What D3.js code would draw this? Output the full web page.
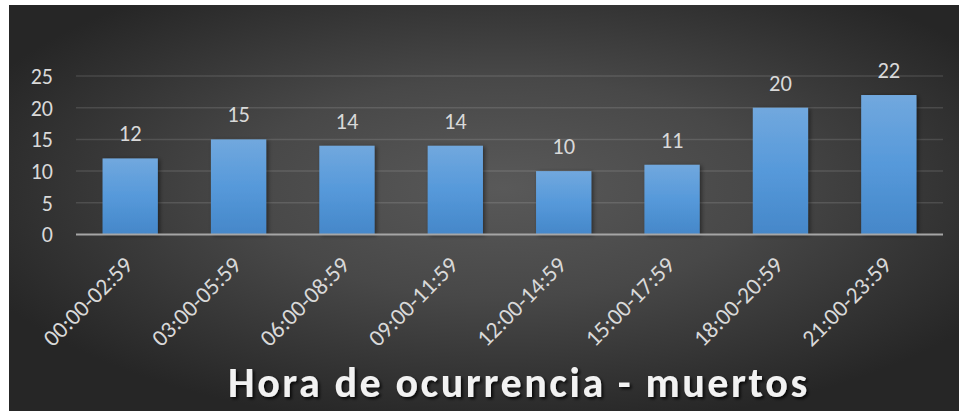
<!DOCTYPE html>
<html>
<head>
<meta charset="utf-8">
<title>Hora de ocurrencia - muertos</title>
<style>
body {margin: 0; background: #ffffff;}
text {font-family: Carlito, Calibri, "Open Sans", sans-serif;}
</style>
</head>
<body>
<div id="chart"></div>
<script src="https://cdn.jsdelivr.net/npm/d3@7"></script>
<script>
var categories = ['00:00-02:59', '03:00-05:59', '06:00-08:59', '09:00-11:59',
	'12:00-14:59', '15:00-17:59', '18:00-20:59', '21:00-23:59'];
var values = [12, 15, 14, 14, 10, 11, 20, 22];
var yTicks = [0, 5, 10, 15, 20, 25];
var title = 'Hora de ocurrencia - muertos';

(function(d3) {
	var width = 959;
	var height = 411;
	var plot = {left: 76, right: 943, top: 76, bottom: 234.5};

	var svg = d3.select('#chart')
		.append('svg')
		.attr('width', width)
		.attr('height', height)
		.style('display', 'block');

	var defs = svg.append('defs');
	var bg = defs.append('radialGradient')
		.attr('id', 'bg')
		.attr('cx', '0.52').attr('cy', '0.45').attr('r', '0.6');
	bg.append('stop').attr('offset', '0%').attr('stop-color', '#595959');
	bg.append('stop').attr('offset', '45%').attr('stop-color', '#484848');
	bg.append('stop').attr('offset', '100%').attr('stop-color', '#262626');

	var barGrad = defs.append('linearGradient')
		.attr('id', 'bar')
		.attr('x1', 0).attr('y1', 0).attr('x2', 0).attr('y2', 1);
	barGrad.append('stop').attr('offset', '0%').attr('stop-color', '#71a8de');
	barGrad.append('stop').attr('offset', '50%').attr('stop-color', '#5699da');
	barGrad.append('stop').attr('offset', '100%').attr('stop-color', '#4587c9');

	var shadow = defs.append('filter').attr('id', 'shadow')
		.attr('x', '-20%').attr('y', '-20%').attr('width', '150%').attr('height', '150%');
	shadow.append('feDropShadow')
		.attr('dx', 2).attr('dy', 1).attr('stdDeviation', 2)
		.attr('flood-color', '#000').attr('flood-opacity', 0.45);

	var tshadow = defs.append('filter').attr('id', 'tshadow')
		.attr('x', '-10%').attr('y', '-30%').attr('width', '120%').attr('height', '160%');
	tshadow.append('feDropShadow')
		.attr('dx', 2).attr('dy', 2).attr('stdDeviation', 1.5)
		.attr('flood-color', '#000').attr('flood-opacity', 0.8);

	svg.append('rect')
		.attr('x', 9).attr('y', 5)
		.attr('width', width - 9).attr('height', height - 5)
		.attr('fill', 'url(#bg)');

	var x = d3.scaleBand()
		.domain(categories)
		.range([plot.left, plot.right])
		.paddingInner(0.49)
		.paddingOuter(0.245);

	var y = d3.scaleLinear()
		.domain([0, 25])
		.range([plot.bottom, plot.top]);

	// gridlines
	svg.append('g')
		.selectAll('line')
		.data(yTicks.slice(1))
		.enter()
		.append('line')
		.attr('x1', plot.left).attr('x2', plot.right)
		.attr('y1', function(d) { return y(d); })
		.attr('y2', function(d) { return y(d); })
		.attr('stroke', 'rgba(255,255,255,0.12)')
		.attr('stroke-width', 1.5);

	// y axis labels
	var yAxis = svg.append('g')
		.attr('transform', 'translate(' + (plot.left - 23) + ',0)')
		.call(d3.axisLeft(y).tickValues(yTicks).tickSize(0).tickPadding(0));
	yAxis.select('.domain').remove();
	yAxis.selectAll('text')
		.attr('fill', '#d9d9d9')
		.style('font-size', '22px')
		.attr('dy', '0.34em');

	// bars
	svg.append('g')
		.selectAll('rect')
		.data(values)
		.enter()
		.append('rect')
		.attr('x', function(d, i) { return x(categories[i]); })
		.attr('y', function(d) { return y(d); })
		.attr('width', x.bandwidth())
		.attr('height', function(d) { return y(0) - y(d); })
		.attr('fill', 'url(#bar)')
		.attr('filter', 'url(#shadow)');

	// value labels
	svg.append('g')
		.selectAll('text')
		.data(values)
		.enter()
		.append('text')
		.attr('x', function(d, i) { return x(categories[i]) + x.bandwidth() / 2; })
		.attr('y', function(d) { return y(d) - 17; })
		.attr('text-anchor', 'middle')
		.attr('fill', '#d9d9d9')
		.style('font-size', '22.5px')
		.text(function(d) { return d; });

	// x axis line
	svg.append('line')
		.attr('x1', plot.left).attr('x2', plot.right)
		.attr('y1', y(0)).attr('y2', y(0))
		.attr('stroke', '#a6a6a6')
		.attr('stroke-width', 2);

	// x labels
	svg.append('g')
		.selectAll('text')
		.data(categories)
		.enter()
		.append('text')
		.attr('transform', function(d) {
			var cx = x(d) + x.bandwidth() / 2 + 4;
			return 'translate(' + cx + ',' + (y(0) + 32) + ') rotate(-45)';
		})
		.attr('text-anchor', 'end')
		.attr('fill', '#d9d9d9')
		.style('font-size', '23.5px')
		.text(function(d) { return d; });

	// title
	svg.append('text')
		.attr('x', 519)
		.attr('y', 397)
		.attr('text-anchor', 'middle')
		.attr('fill', '#f2f2f2')
		.attr('filter', 'url(#tshadow)')
		.style('font-size', '42px')
		.style('font-weight', 'bold')
		.style('letter-spacing', '2.6px')
		.text(title);
})(window.d3);
</script>
</body>
</html>
